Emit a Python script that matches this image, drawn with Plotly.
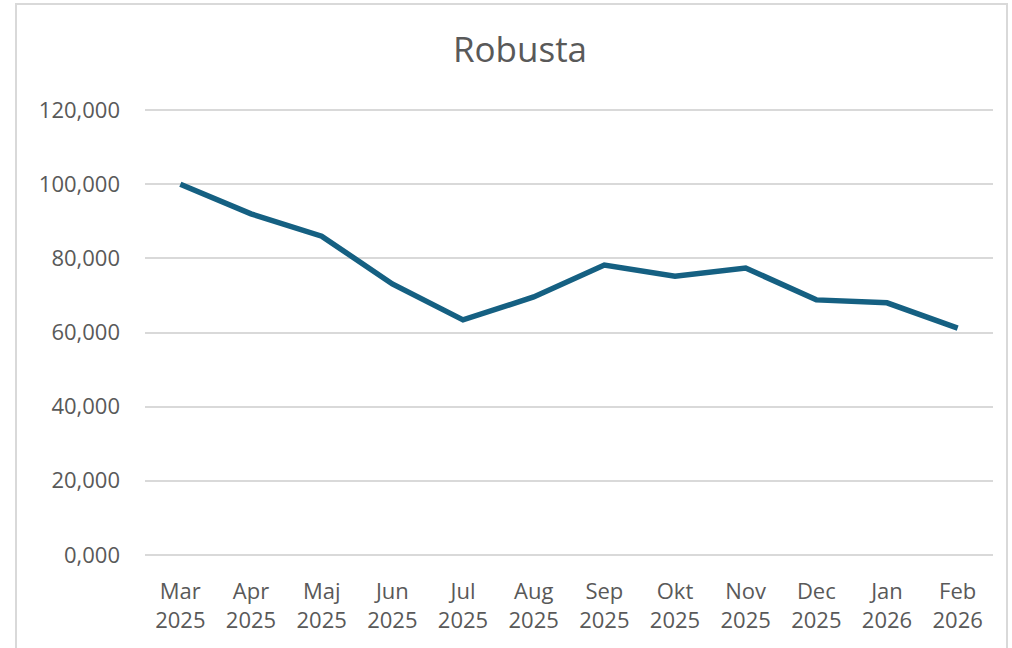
import plotly.graph_objects as go

months = ["Mar<br>2025", "Apr<br>2025", "Maj<br>2025", "Jun<br>2025", "Jul<br>2025", "Aug<br>2025",
          "Sep<br>2025", "Okt<br>2025", "Nov<br>2025", "Dec<br>2025", "Jan<br>2026", "Feb<br>2026"]
values = [100.0, 92.0, 86.0, 73.1, 63.4, 69.6, 78.2, 75.2, 77.4, 68.8, 68.0, 61.2]
ytick_vals = [0, 20, 40, 60, 80, 100, 120]
ytick_text = ["0,000", "20,000", "40,000", "60,000", "80,000", "100,000", "120,000"]

W, H = 1012, 648
L, R, T, B = 145, 19, 109, 92
pw, ph = W - L - R, H - T - B

fig = go.Figure()
fig.add_trace(go.Scatter(x=list(range(len(months))), y=values, mode="lines",
                         line=dict(color="#156082", width=5.5), hoverinfo="skip"))

def px_x(x):
    return (x - L) / pw

def px_y(y):
    return (H - B - y) / ph

fig.update_layout(
    width=W, height=H,
    margin=dict(l=L, r=R, t=T, b=B, autoexpand=False),
    paper_bgcolor="white", plot_bgcolor="white",
    showlegend=False,
    font=dict(family="Open Sans, Liberation Sans, sans-serif", color="#595959", size=22),
    title=dict(text="Robusta", x=520 / W, xanchor="center", y=1 - 50 / H, yanchor="middle",
               font=dict(size=35, color="#595959")),
    xaxis=dict(range=[-0.5, len(months) - 0.5], tickvals=list(range(len(months))), ticktext=months,
               showgrid=False, showline=False, zeroline=False, ticks="", automargin=False,
               tickfont=dict(size=22, color="#595959"), ticklabelstandoff=20),
    yaxis=dict(range=[-0.3, 120.3], tickvals=ytick_vals, ticktext=ytick_text,
               showgrid=True, gridcolor="#D9D9D9", gridwidth=2, zeroline=False, automargin=False,
               showline=False, ticks="", tickfont=dict(size=22, color="#595959"),
               ticklabelstandoff=24),
    shapes=[dict(type="rect", xref="paper", yref="paper",
                 x0=px_x(16), x1=px_x(1007), y0=px_y(660), y1=px_y(4),
                 line=dict(color="#D9D9D9", width=2), fillcolor="rgba(0,0,0,0)", layer="below")],
)

fig.write_html("out.html", config={"displayModeBar": False},
               post_script="document.body.style.margin='0';")
